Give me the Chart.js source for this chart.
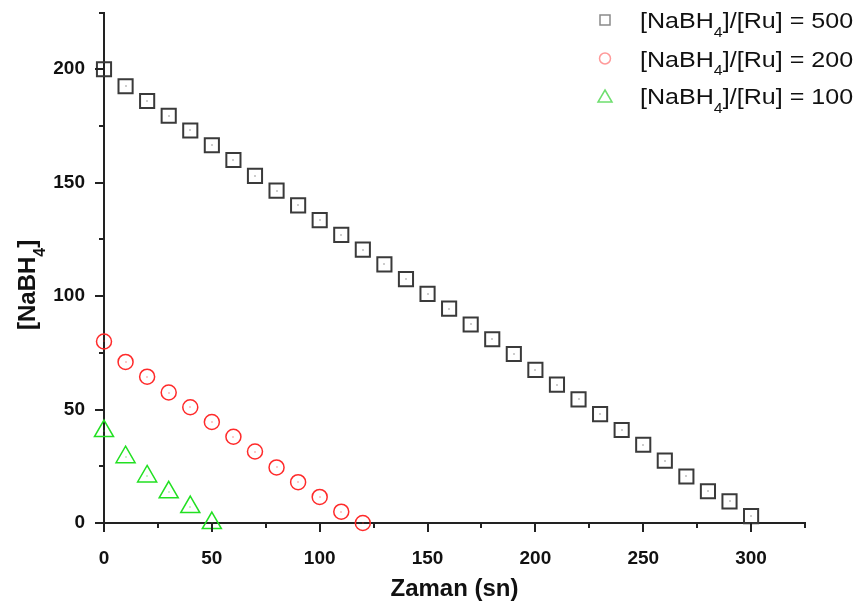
<!DOCTYPE html>
<html>
<head>
<meta charset="utf-8">
<script src="https://cdn.jsdelivr.net/npm/chart.js@4.4.1/dist/chart.umd.min.js"></script>
<style>
body { margin: 0; background: #fff; }
#wrap { width: 862px; height: 607px; }
</style>
</head>
<body>
<div id="wrap"><canvas id="chart" width="862" height="607"></canvas></div>
<script>
// time (s) and [NaBH4]
const time500 = [0, 10, 20, 30, 40, 50, 60, 70, 80, 90, 100, 110, 120, 130, 140, 150,
                 160, 170, 180, 190, 200, 210, 220, 230, 240, 250, 260, 270, 280, 290, 300];
const conc500 = [200, 192.5, 186, 179.5, 173, 166.5, 160, 153, 146.5, 140, 133.5, 127, 120.5, 114, 107.5, 101,
                 94.5, 87.5, 81, 74.5, 67.5, 61, 54.5, 48, 41, 34.5, 27.5, 20.5, 14, 9.5, 3];
const time200 = [0, 10, 20, 30, 40, 50, 60, 70, 80, 90, 100, 110, 120];
const conc200 = [80, 71, 64.5, 57.5, 51, 44.5, 38, 31.5, 24.5, 18, 11.5, 5, 0];
const time100 = [0, 10, 20, 30, 40, 50];
const conc100 = [40.5, 29, 20.5, 13.5, 7, 0];
const ratios = ['500', '200', '100'];

const FONT = '"Liberation Sans", Arial, sans-serif';

function toPoints(xs, ys) {
    return xs.map((x, i) => ({ x: x, y: ys[i] }));
}

// text like [NaBH4]... with a subscript 4
function drawSubText(ctx, x, y, pre, sub, post, size, bold, stretch) {
    const w = bold ? 'bold ' : '';
    ctx.save();
    ctx.translate(x, y);
    ctx.scale(stretch, 1);
    ctx.textBaseline = 'alphabetic';
    ctx.textAlign = 'left';
    ctx.font = w + size + 'px ' + FONT;
    ctx.fillText(pre, 0, 0);
    let cx = ctx.measureText(pre).width;
    ctx.font = w + Math.round(size * 0.65) + 'px ' + FONT;
    ctx.fillText(sub, cx, size * 0.4);
    cx += ctx.measureText(sub).width;
    ctx.font = w + size + 'px ' + FONT;
    ctx.fillText(post, cx, 0);
    cx += ctx.measureText(post).width;
    ctx.restore();
    return cx * stretch;
}

const axisPlugin = {
    id: 'axisDecor',
    afterDraw(chart) {
        const ctx = chart.ctx;
        const area = chart.chartArea;
        const xs = chart.scales.x, ys = chart.scales.y;
        ctx.save();
        ctx.strokeStyle = '#222';
        ctx.lineWidth = 2;
        ctx.beginPath();
        xs.ticks.forEach(t => {
            const px = Math.round(xs.getPixelForValue(t.value));
            const len = t.value % 50 === 0 ? 9 : 5;
            ctx.moveTo(px, area.bottom);
            ctx.lineTo(px, area.bottom + len);
        });
        ys.ticks.forEach(t => {
            const py = Math.round(ys.getPixelForValue(t.value));
            const len = t.value % 50 === 0 ? 9 : 5;
            ctx.moveTo(area.left, py);
            ctx.lineTo(area.left - len, py);
        });
        ctx.stroke();

        // axis titles
        ctx.fillStyle = '#111';
        ctx.font = 'bold 24px ' + FONT;
        ctx.textAlign = 'center';
        ctx.textBaseline = 'alphabetic';
        ctx.fillText('Zaman (sn)', (area.left + area.right) / 2, 596);

        ctx.save();
        ctx.translate(35, 330);
        ctx.rotate(-Math.PI / 2);
        drawSubText(ctx, 0, 0, '[NaBH', '4', ']', 24, true, 1);
        ctx.restore();

        // legend
        const rows = [20, 58.5, 96];
        chart.data.datasets.forEach((ds, i) => {
            const cy = rows[i];
            const mx = 605;
            ctx.lineWidth = 1.5;
            ctx.strokeStyle = ds.legendColor;
            ctx.beginPath();
            if (ds.pointStyle === 'rect') {
                ctx.rect(mx - 5, cy - 5, 10, 10);
            } else if (ds.pointStyle === 'circle') {
                ctx.arc(mx, cy, 5.5, 0, Math.PI * 2);
            } else {
                ctx.moveTo(mx, cy - 6);
                ctx.lineTo(mx + 7, cy + 6);
                ctx.lineTo(mx - 7, cy + 6);
                ctx.closePath();
            }
            ctx.stroke();
            ctx.fillStyle = '#111';
            drawSubText(ctx, 640, cy + 8, '[NaBH', '4', ']/[Ru] = ' + ratios[i], 22, false, 1.14);
        });
        ctx.restore();
    },
    afterDatasetsDraw(chart) {
        // tiny centre dot inside each hollow marker
        const ctx = chart.ctx;
        ctx.save();
        chart.data.datasets.forEach((ds, i) => {
            ctx.fillStyle = ds.borderColor;
            chart.getDatasetMeta(i).data.forEach(p => {
                ctx.fillRect(Math.round(p.x) - 0.5, Math.round(p.y) - 0.5, 1, 1);
            });
        });
        ctx.restore();
    }
};

new Chart(document.getElementById('chart'), {
    type: 'scatter',
    data: {
        datasets: [
            {
                label: '[NaBH4]/[Ru] = 500',
                data: toPoints(time500, conc500),
                pointStyle: 'rect',
                pointRadius: 10,
                borderColor: '#3a3a3a',
                backgroundColor: 'transparent',
                borderWidth: 2,
                legendColor: '#8a8a8a',
                clip: false
            },
            {
                label: '[NaBH4]/[Ru] = 200',
                data: toPoints(time200, conc200),
                pointStyle: 'circle',
                pointRadius: 7.5,
                borderColor: '#ff2a2a',
                backgroundColor: 'transparent',
                borderWidth: 1.5,
                legendColor: '#ff9a9a',
                clip: false
            },
            {
                label: '[NaBH4]/[Ru] = 100',
                data: toPoints(time100, conc100),
                pointStyle: 'triangle',
                pointRadius: 11,
                borderColor: '#22e022',
                backgroundColor: 'transparent',
                borderWidth: 1.5,
                legendColor: '#6ede6e',
                clip: false
            }
        ]
    },
    options: {
        responsive: false,
        animation: false,
        layout: { padding: { left: 0, top: 7, right: 57, bottom: 0 } },
        plugins: {
            legend: { display: false },
            tooltip: { enabled: false }
        },
        elements: { point: { hoverRadius: 0 } },
        scales: {
            x: {
                type: 'linear',
                min: 0,
                max: 325,
                grid: { display: false },
                border: { display: true, color: '#222', width: 2 },
                ticks: {
                    stepSize: 25,
                    autoSkip: false,
                    maxRotation: 0,
                    padding: 16,
                    color: '#111',
                    font: { family: FONT, size: 19, weight: 'bold' },
                    callback: v => (v % 50 === 0 && v <= 300 ? String(v) : '')
                },
                afterFit: s => { s.height = 84; s.paddingLeft = 0; s.paddingRight = 0; }
            },
            y: {
                type: 'linear',
                min: 0,
                max: 225,
                grid: { display: false },
                border: { display: true, color: '#222', width: 2 },
                ticks: {
                    stepSize: 25,
                    autoSkip: false,
                    padding: 11,
                    color: '#111',
                    font: { family: FONT, size: 19, weight: 'bold' },
                    callback: v => (v % 50 === 0 && v <= 200 ? String(v) : '')
                },
                afterFit: s => { s.width = 104; s.paddingTop = 0; s.paddingBottom = 0; }
            }
        }
    },
    plugins: [axisPlugin]
});
</script>
</body>
</html>
